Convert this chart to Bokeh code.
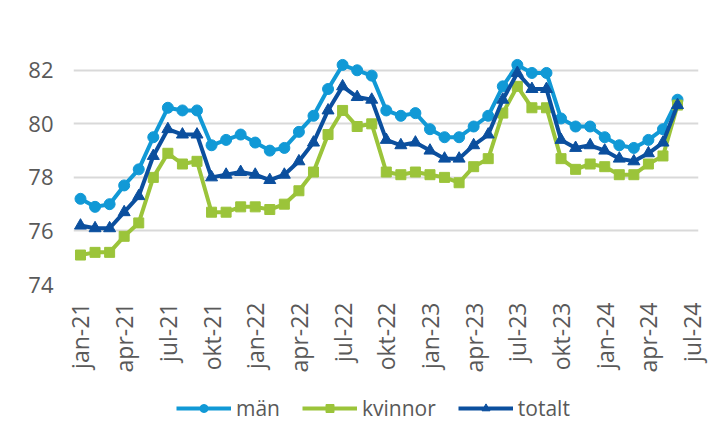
import math
from bokeh.plotting import figure
from bokeh.models import FixedTicker, Legend, LegendItem, Range1d
from bokeh.layouts import column
from bokeh.embed import file_html
from bokeh.resources import INLINE

# monthly values jan-21 .. jun-24
man = [77.2, 76.9, 77.0, 77.7, 78.3, 79.5, 80.6, 80.5, 80.5, 79.2, 79.4, 79.6,
       79.3, 79.0, 79.1, 79.7, 80.3, 81.3, 82.2, 82.0, 81.8, 80.5, 80.3, 80.4,
       79.8, 79.5, 79.5, 79.9, 80.3, 81.4, 82.2, 81.9, 81.9, 80.2, 79.9, 79.9,
       79.5, 79.2, 79.1, 79.4, 79.8, 80.9]
kvinnor = [75.1, 75.2, 75.2, 75.8, 76.3, 78.0, 78.9, 78.5, 78.6, 76.7, 76.7, 76.9,
           76.9, 76.8, 77.0, 77.5, 78.2, 79.6, 80.5, 79.9, 80.0, 78.2, 78.1, 78.2,
           78.1, 78.0, 77.8, 78.4, 78.7, 80.4, 81.4, 80.6, 80.6, 78.7, 78.3, 78.5,
           78.4, 78.1, 78.1, 78.5, 78.8, 80.7]
totalt = [76.2, 76.1, 76.1, 76.7, 77.3, 78.8, 79.8, 79.6, 79.6, 78.0, 78.1, 78.2,
          78.1, 77.9, 78.1, 78.6, 79.3, 80.5, 81.4, 81.0, 80.9, 79.4, 79.2, 79.3,
          79.0, 78.7, 78.7, 79.2, 79.6, 80.9, 81.9, 81.3, 81.3, 79.4, 79.1, 79.2,
          79.0, 78.7, 78.6, 78.9, 79.3, 80.7]
tick_labels = ["jan-21", "apr-21", "jul-21", "okt-21", "jan-22", "apr-22", "jul-22",
               "okt-22", "jan-23", "apr-23", "jul-23", "okt-23", "jan-24", "apr-24",
               "jul-24"]
series_names = ["män", "kvinnor", "totalt"]
y_ticks = [74, 76, 78, 80, 82]

x = list(range(len(man)))
tick_pos = [3 * i for i in range(len(tick_labels))]

C_MAN = "#1199d6"
C_KV = "#9bc43a"
C_TOT = "#0b4f9e"
TXT = "#595959"
FONT = "Open Sans"

p = figure(width=710, height=375, output_backend="svg", toolbar_location=None,
           x_range=Range1d(-0.48, 42.44), y_range=Range1d(74, 83),
           min_border_left=73, min_border_right=12, min_border_top=43,
           min_border_bottom=87)
p.outline_line_color = None
p.background_fill_color = "white"
p.border_fill_color = "white"

p.xgrid.grid_line_color = None
p.ygrid.grid_line_color = "#d9d9d9"
p.ygrid.grid_line_width = 2
p.ygrid.ticker = FixedTicker(ticks=y_ticks)

p.yaxis.ticker = FixedTicker(ticks=y_ticks)
p.yaxis.axis_line_color = None
p.yaxis.major_tick_line_color = None
p.yaxis.minor_tick_line_color = None
p.yaxis.major_label_standoff = 14
p.yaxis.major_label_text_font = FONT
p.yaxis.major_label_text_font_size = "22px"
p.yaxis.major_label_text_color = TXT

p.xaxis.ticker = FixedTicker(ticks=tick_pos)
p.xaxis.major_label_overrides = {t: l for t, l in zip(tick_pos, tick_labels)}
p.xaxis.major_label_orientation = math.pi / 2
p.xaxis.axis_line_color = None
p.xaxis.major_tick_line_color = None
p.xaxis.minor_tick_line_color = None
p.xaxis.major_label_standoff = 12
p.xaxis.major_label_text_font = FONT
p.xaxis.major_label_text_font_size = "23px"
p.xaxis.major_label_text_color = TXT

styles = [(C_MAN, "circle", 11), (C_KV, "square", 10), (C_TOT, "triangle", 12)]
series = [man, kvinnor, totalt]
for ys, (c, mk, sz) in zip(series, styles):
    p.line(x, ys, line_color=c, line_width=4)
    p.scatter(x, ys, marker=mk, size=sz, fill_color=c, line_color=c)

# legend strip: a separate figure below the chart; its renderers use the same
# data but its y range lies outside the data, so only the legend shows
lg = figure(width=710, height=62, output_backend="svg", toolbar_location=None,
            x_range=Range1d(-0.48, 42.44), y_range=Range1d(0, 1),
            min_border_left=0, min_border_right=0, min_border_top=0,
            min_border_bottom=0)
lg.axis.visible = False
lg.grid.visible = False
lg.outline_line_color = None
lg.border_fill_color = "white"
items = []
for name, ys, (c, mk, sz) in zip(series_names, series, styles):
    r1 = lg.line(x, ys, line_color=c, line_width=4)
    r2 = lg.scatter(x, ys, marker=mk, size=10, fill_color=c, line_color=c)
    items.append(LegendItem(label=name, renderers=[r1, r2]))
legend = Legend(items=items, orientation="horizontal", location=(103, 15),
                glyph_width=55, glyph_height=20, label_standoff=5, spacing=22,
                padding=2, margin=0, border_line_color=None,
                background_fill_alpha=0,
                label_text_font=FONT, label_text_font_size="21px",
                label_text_color=TXT)
lg.add_layout(legend, "center")

layout = column(p, lg, spacing=0)
open("out.html", "w").write(file_html(layout, INLINE))
